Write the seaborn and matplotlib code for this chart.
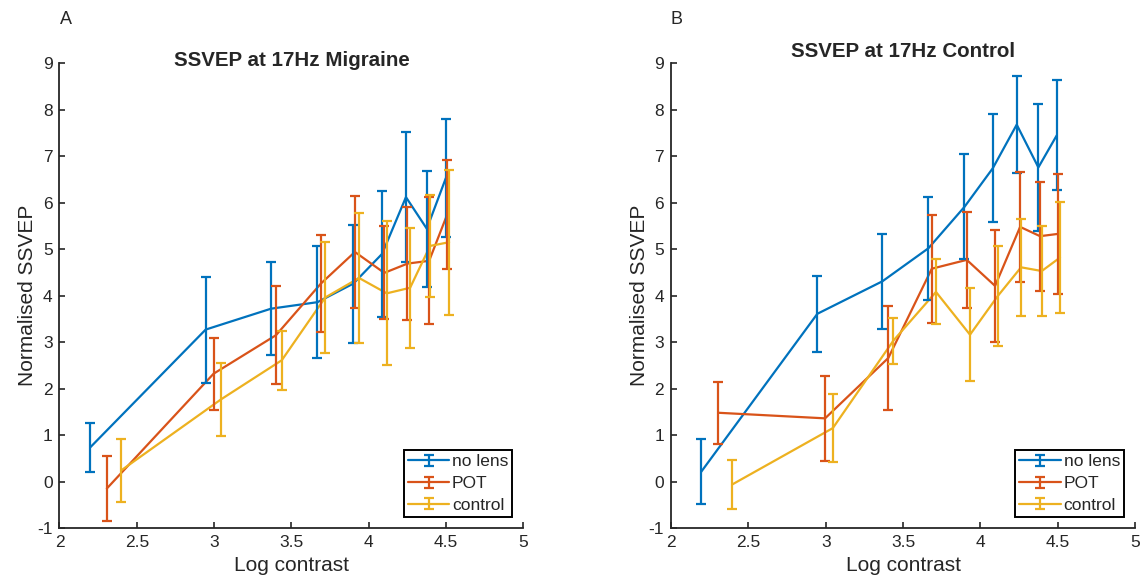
import matplotlib
matplotlib.use("Agg")
import matplotlib.pyplot as plt
import pandas as pd
import seaborn as sns
from matplotlib.container import ErrorbarContainer
from matplotlib.legend_handler import HandlerErrorbar

# Migraine group (panel A)
mig_x_nolens = [2.20, 2.945, 3.368, 3.668, 3.90, 4.086, 4.24, 4.375, 4.498]
mig_y_nolens = [0.74, 3.27, 3.72, 3.86, 4.26, 4.90, 6.12, 5.44, 6.53]
mig_e_nolens = [0.53, 1.14, 1.00, 1.21, 1.27, 1.36, 1.40, 1.25, 1.27]

mig_x_pot = [2.306, 2.996, 3.40, 3.69, 3.91, 4.10, 4.25, 4.39, 4.506]
mig_y_pot = [-0.15, 2.32, 3.15, 4.26, 4.94, 4.49, 4.69, 4.75, 5.74]
mig_e_pot = [0.70, 0.77, 1.06, 1.05, 1.20, 1.00, 1.22, 1.37, 1.17]

mig_x_ctrl = [2.399, 3.045, 3.437, 3.718, 3.937, 4.116, 4.267, 4.396, 4.519]
mig_y_ctrl = [0.24, 1.77, 2.61, 3.96, 4.38, 4.05, 4.17, 5.07, 5.15]
mig_e_ctrl = [0.68, 0.78, 0.64, 1.20, 1.40, 1.55, 1.29, 1.09, 1.56]

# Control group (panel B)
con_x_nolens = [2.195, 2.946, 3.367, 3.664, 3.897, 4.08, 4.235, 4.375, 4.494]
con_y_nolens = [0.21, 3.61, 4.31, 5.02, 5.91, 6.74, 7.68, 6.76, 7.45]
con_e_nolens = [0.70, 0.82, 1.02, 1.11, 1.13, 1.16, 1.04, 1.36, 1.18]

con_x_pot = [2.306, 2.996, 3.405, 3.686, 3.912, 4.095, 4.257, 4.386, 4.504]
con_y_pot = [1.48, 1.36, 2.66, 4.58, 4.77, 4.21, 5.48, 5.28, 5.33]
con_e_pot = [0.67, 0.92, 1.12, 1.16, 1.04, 1.21, 1.19, 1.17, 1.29]

con_x_ctrl = [2.397, 3.046, 3.437, 3.713, 3.933, 4.112, 4.263, 4.397, 4.515]
con_y_ctrl = [-0.06, 1.15, 3.03, 4.08, 3.16, 3.99, 4.61, 4.53, 4.82]
con_e_ctrl = [0.52, 0.74, 0.49, 0.70, 1.00, 1.08, 1.05, 0.97, 1.20]

conditions = ["no lens", "POT", "control"]
colors = ["#0072BD", "#D95319", "#EDB120"]


def make_df(xs, ys, es):
    parts = []
    for name, x, y, e in zip(conditions, xs, ys, es):
        parts.append(pd.DataFrame({"x": x, "y": y, "err": e, "cond": name}))
    return pd.concat(parts, ignore_index=True)


df_mig = make_df([mig_x_nolens, mig_x_pot, mig_x_ctrl],
                 [mig_y_nolens, mig_y_pot, mig_y_ctrl],
                 [mig_e_nolens, mig_e_pot, mig_e_ctrl])
df_con = make_df([con_x_nolens, con_x_pot, con_x_ctrl],
                 [con_y_nolens, con_y_pot, con_y_ctrl],
                 [con_e_nolens, con_e_pot, con_e_ctrl])

sns.set_style("ticks")
plt.rcParams["font.family"] = ["Liberation Sans", "DejaVu Sans"]
plt.rcParams["xtick.direction"] = "in"
plt.rcParams["ytick.direction"] = "in"
plt.rcParams["axes.unicode_minus"] = False

fig = plt.figure(figsize=(11.42, 5.85), dpi=100)
ax1 = fig.add_axes([0.0521, 0.0974, 0.4063, 0.7944])
ax2 = fig.add_axes([0.5876, 0.0974, 0.4063, 0.7944])


def draw_panel(ax, df, title, title_y, letter, letter_x):
    sns.lineplot(data=df, x="x", y="y", hue="cond", hue_order=conditions,
                 palette=colors, sort=False, estimator=None, lw=1.6,
                 legend=False, ax=ax)
    handles = []
    for i, name in enumerate(conditions):
        sub = df[df.cond == name]
        eb = ax.errorbar(sub.x, sub.y, yerr=sub.err, fmt="none",
                         ecolor=colors[i], elinewidth=1.6, capsize=3.5,
                         capthick=1.6)
        line = ax.lines[i]
        handles.append(ErrorbarContainer((line, eb.lines[1], eb.lines[2]),
                                         has_xerr=False, has_yerr=True,
                                         label=name))
    ax.set_xlim(2, 5)
    ax.set_ylim(-1, 9)
    ax.set_xticks([2, 2.5, 3, 3.5, 4, 4.5, 5])
    ax.set_xticklabels(["2", "2.5", "3", "3.5", "4", "4.5", "5"])
    ax.set_yticks(range(-1, 10))
    ax.tick_params(labelsize=12.5, length=4.5, width=1.2, colors="#262626",
                   labelcolor="#262626", pad=5)
    for s in ["top", "right"]:
        ax.spines[s].set_visible(False)
    for s in ["left", "bottom"]:
        ax.spines[s].set_linewidth(1.3)
        ax.spines[s].set_color("#262626")
    ax.set_xlabel("Log contrast", fontsize=15, color="#262626", labelpad=4)
    ax.set_ylabel("Normalised SSVEP", fontsize=15, color="#262626", labelpad=0)
    ax.text(0.5, title_y, title, transform=ax.transAxes, ha="center",
            va="center", fontsize=14.8, fontweight="bold")
    fig.text(letter_x, 1 - 19 / 585, letter, ha="left", va="center",
             fontsize=13)
    leg = ax.legend(handles=handles, loc="lower right", fontsize=12.5,
                    frameon=True, fancybox=False, framealpha=1,
                    edgecolor="black", handlelength=2.4, handletextpad=0.15,
                    labelspacing=0.38, borderpad=0.22, borderaxespad=0.65,
                    handler_map={ErrorbarContainer: HandlerErrorbar(xerr_size=0.32)})
    leg.get_frame().set_linewidth(1.4)


draw_panel(ax1, df_mig, "SSVEP at 17Hz Migraine", 1.005, "A", 60 / 1142)
draw_panel(ax2, df_con, "SSVEP at 17Hz Control", 1.025, "B", 671 / 1142)

fig.savefig("out.png", dpi=100)
